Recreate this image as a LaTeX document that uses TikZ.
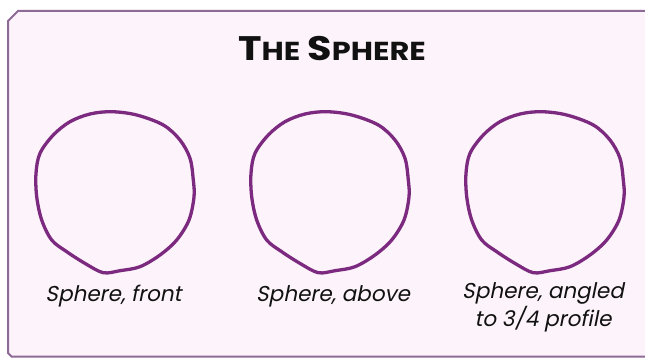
\documentclass[tikz,border=0pt]{standalone}
\usepackage{fontspec}
\setmainfont{Poppins}
\newfontfamily\labelfont[FakeSlant=0.2]{Poppins}
\newfontfamily\titlefont{Poppins}[UprightFont=* Bold]
\definecolor{framepink}{HTML}{FDF3FA}
\definecolor{frameline}{HTML}{8E6A96}
\definecolor{spherepurple}{HTML}{7B2A80}
\definecolor{inkblack}{HTML}{111111}
\tikzset{
  framebox/.style={draw=frameline, fill=framepink, line width=2pt, line join=miter},
  sphereline/.style={draw=spherepurple, line width=3.3pt, line join=round},
  caption/.style={font=\labelfont\fontsize{21.5}{24}\selectfont, text=inkblack, align=center, anchor=base, inner sep=0pt},
  titletext/.style={text=inkblack, anchor=base, inner sep=0pt}
}
\begin{document}
\begin{tikzpicture}[x=1pt,y=-1pt]
\useasboundingbox (0,0) rectangle (645,358);
\fill[white] (0,0) rectangle (645,358);
\begin{scope}
\clip (0,0) rectangle (645,358);
\path[framebox] (660,11) -- (18,11) -- (8,21) -- (8,353) -- (11.5,356.5) -- (660,356.5) -- cycle;
\end{scope}
\node[titletext] (title) at (332,61) {\scalebox{1.17}[1]{\titlefont{\fontsize{34}{34}\selectfont T}{\fontsize{26}{26}\selectfont HE}\hspace{6pt}{\fontsize{34}{34}\selectfont S}{\fontsize{26}{26}\selectfont PHERE}}};
\foreach \cx in {115,330,545}{
  \draw[sphereline, shift={(\cx,191)}] plot[smooth cycle, tension=0.55] coordinates {
    (-3.3,-79.3) (21.7,-76) (48.3,-66) (65,-51) (75,-32.7) (78.3,-11) (79,6) (74,29) (61.7,49) (45,64) (25,75.7) (5,79.7) (-11.7,81.7) (-29,73) (-48.3,60.7) (-63.3,49) (-73.3,29) (-78.3,5.7) (-79,-17.7) (-75,-37.7) (-61.7,-56) (-45,-69.3) (-25,-77)};
}
\node[caption] (capfront) at (113.5,301) {Sphere, front};
\node[caption] (capabove) at (333,301) {Sphere, above};
\node[caption] (capangled) at (543,326) {Sphere, angled\\to 3/4 profile};
\end{tikzpicture}
\end{document}
